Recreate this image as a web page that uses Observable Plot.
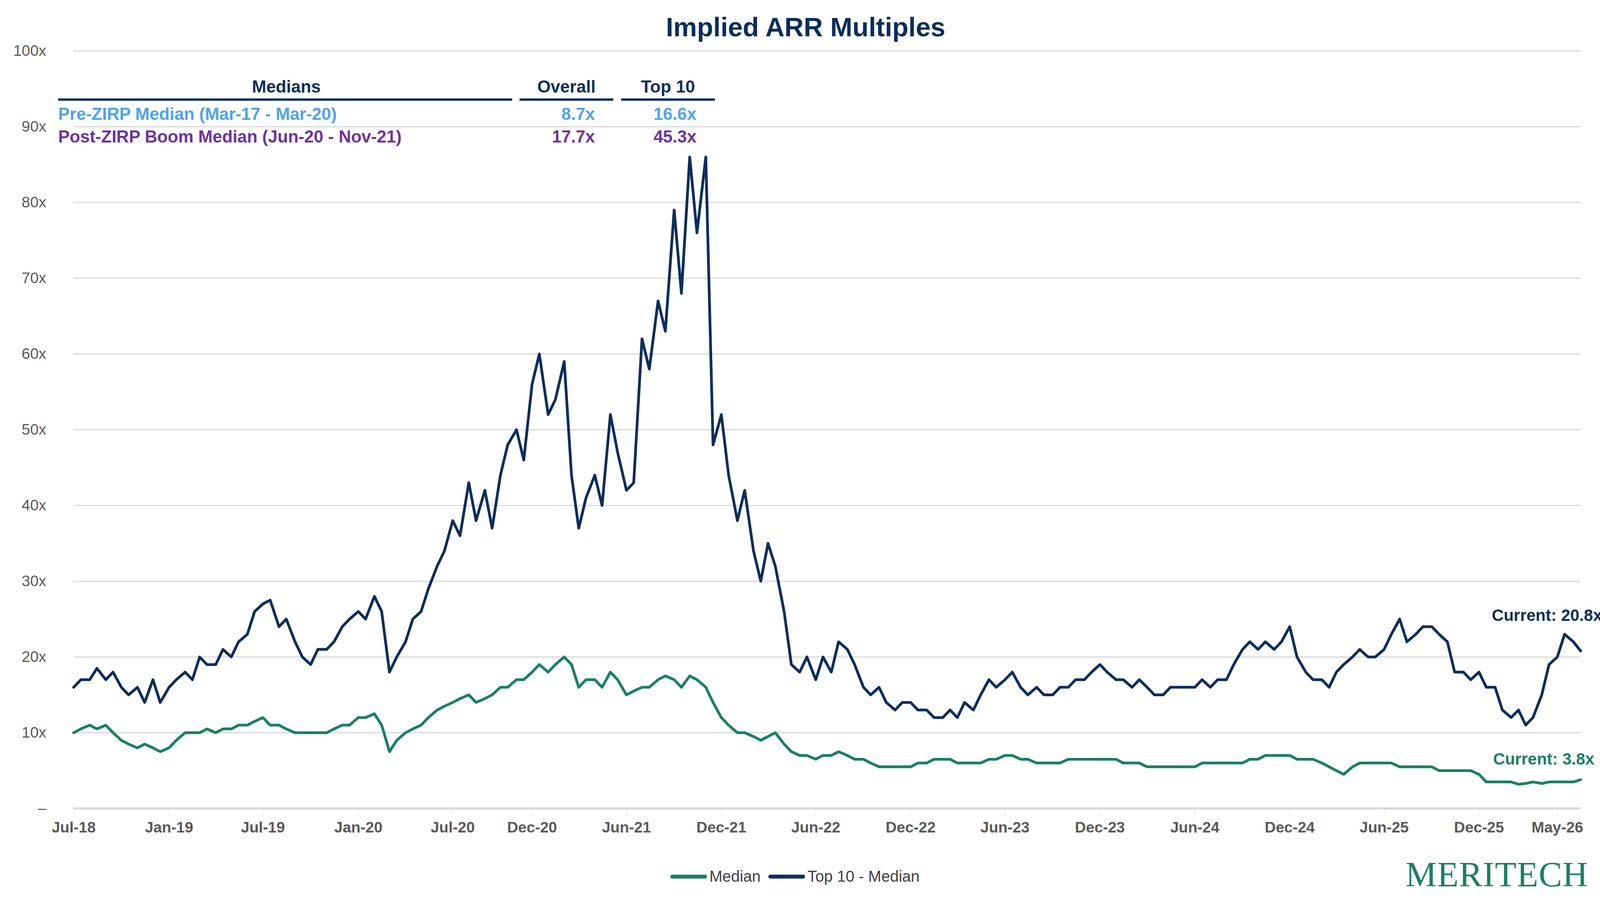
<!DOCTYPE html>
<html><head><meta charset="utf-8">
<script src="https://cdn.jsdelivr.net/npm/d3@7"></script>
<script src="https://cdn.jsdelivr.net/npm/@observablehq/plot@0.6"></script>
<style>
body{margin:0;width:4125px;height:2310px;background:#fff;position:relative;font-family:"Liberation Sans",Arial,sans-serif;overflow:hidden}
#title{position:absolute;top:30px;left:0;width:4125px;text-align:center;font-size:68px;font-weight:bold;color:#0B2D5B}
#chart{position:absolute;left:0;top:0}
.t{position:absolute;font-size:44px;font-weight:bold;white-space:nowrap;line-height:1}
.ul{position:absolute;height:6px;background:#0B2D5B;top:252px}
#legend{position:absolute;top:2222px;left:1716px;font-size:40px;color:#404040;display:flex;align-items:center}
.sw{display:inline-block;width:94px;height:10px;border-radius:5px;margin-right:6px}
#logo{position:absolute;left:3598px;top:2188px;font-family:"Liberation Serif","DejaVu Serif",serif;font-size:90px;color:#1A7F64;letter-spacing:1px}
svg g[aria-label="x-axis tick label"]{font-weight:bold}
</style></head><body>
<div id="title">Implied ARR Multiples</div>
<div id="chart"></div>
<div class="t" style="left:733px;top:200px;transform:translateX(-50%);color:#0B2D5B">Medians</div>
<div class="t" style="left:1450px;top:200px;transform:translateX(-50%);color:#0B2D5B">Overall</div>
<div class="t" style="left:1710px;top:200px;transform:translateX(-50%);color:#0B2D5B">Top 10</div>
<div class="ul" style="left:149px;width:1162px"></div>
<div class="ul" style="left:1330px;width:240px"></div>
<div class="ul" style="left:1590px;width:240px"></div>
<div class="t" style="left:149px;top:270px;color:#4DA3F0">Pre-ZIRP Median (Mar-17 - Mar-20)</div>
<div class="t" style="right:2602px;top:270px;color:#4DA3F0">8.7x</div>
<div class="t" style="right:2342px;top:270px;color:#4DA3F0">16.6x</div>
<div class="t" style="left:149px;top:328px;color:#7030A0">Post-ZIRP Boom Median (Jun-20 - Nov-21)</div>
<div class="t" style="right:2602px;top:328px;color:#7030A0">17.7x</div>
<div class="t" style="right:2342px;top:328px;color:#7030A0">45.3x</div>
<div id="legend"><span class="sw" style="background:#1A7F64"></span><span style="margin-right:20px">Median</span><span class="sw" style="background:#0B2D5B"></span><span>Top 10 - Median</span></div>
<div id="logo">MERITECH</div>
<script>
// semi-monthly readings (1st and 15th of each month) starting Jul 2018
const startDate = "2018-07-01";
const top10 = [
16,17, 17,18.5, 17,18, 16,15, 16,14, 17,14,
16,17, 18,17, 20,19, 19,21, 20,22, 23,26, 27,27.5, 24,25, 22,20, 19,21, 21,22, 24,25,
26,25, 28,26, 18,20, 22,25, 26,29, 32,34, 38,36, 43,38, 42,37, 44,48, 50,46, 56,60,
52,54, 59,44, 37,41, 44,40, 52,47, 42,43, 62,58, 67,63, 79,68, 86,76, 86,48, 52,44,
38,42, 34,30, 35,32, 26,19, 18,20, 17,20, 18,22, 21,19, 16,15, 16,14, 13,14, 14,13,
13,12, 12,13, 12,14, 13,15, 17,16, 17,18, 16,15, 16,15, 15,16, 16,17, 17,18, 19,18,
17,17, 16,17, 16,15, 15,16, 16,16, 16,17, 16,17, 17,19, 21,22, 21,22, 21,22, 24,20,
18,17, 17,16, 18,19, 20,21, 20,20, 21,23, 25,22, 23,24, 24,23, 22,18, 18,17, 18,16,
16,13, 12,13, 11,12, 15,19, 20,23, 22,20.8
];
const median = [
10,10.5, 11,10.5, 11,10, 9,8.5, 8,8.5, 8,7.5,
8,9, 10,10, 10,10.5, 10,10.5, 10.5,11, 11,11.5, 12,11, 11,10.5, 10,10, 10,10, 10,10.5, 11,11,
12,12, 12.5,11, 7.5,9, 10,10.5, 11,12, 13,13.5, 14,14.5, 15,14, 14.5,15, 16,16, 17,17, 18,19,
18,19, 20,19, 16,17, 17,16, 18,17, 15,15.5, 16,16, 17,17.5, 17,16, 17.5,17, 16,14, 12,11,
10,10, 9.5,9, 9.5,10, 8.5,7.5, 7,7, 6.5,7, 7,7.5, 7,6.5, 6.5,6, 5.5,5.5, 5.5,5.5, 5.5,6,
6,6.5, 6.5,6.5, 6,6, 6,6, 6.5,6.5, 7,7, 6.5,6.5, 6,6, 6,6, 6.5,6.5, 6.5,6.5, 6.5,6.5,
6.5,6, 6,6, 5.5,5.5, 5.5,5.5, 5.5,5.5, 5.5,6, 6,6, 6,6, 6,6.5, 6.5,7, 7,7, 7,6.5,
6.5,6.5, 6,5.5, 5,4.5, 5.5,6, 6,6, 6,6, 5.5,5.5, 5.5,5.5, 5.5,5, 5,5, 5,5, 4.5,3.5,
3.5,3.5, 3.5,3.2, 3.3,3.5, 3.3,3.5, 3.5,3.5, 3.5,3.8
];
const tickLabels = ["2018-07-01","2019-01-01","2019-07-01","2020-01-01","2020-07-01","2020-12-01","2021-06-01","2021-12-01","2022-06-01","2022-12-01","2023-06-01","2023-12-01","2024-06-01","2024-12-01","2025-06-01","2025-12-01","2026-05-01"];
const yTicks = [0,10,20,30,40,50,60,70,80,90,100];
const currentTop10 = 20.8, currentMedian = 3.8;

const n = Math.min(top10.length, median.length);
const s = new Date(startDate + "T00:00:00Z");
const rows = [];
for (let i = 0; i < n; i++) {
  const d = new Date(Date.UTC(s.getUTCFullYear(), s.getUTCMonth() + Math.floor(i/2), i % 2 ? 15 : 1));
  rows.push({date: d, median: median[i], top10: top10[i]});
}
const last = rows[rows.length-1];
const ticks = tickLabels.map(t => new Date(t + "T00:00:00Z"));

const chart = Plot.plot({
  width: 4125, height: 2180,
  marginTop: 130, marginBottom: 110, marginLeft: 188, marginRight: 79,
  style: {fontFamily: "Liberation Sans, Arial, sans-serif", fontSize: "39px", color: "#595959", background: "transparent", overflow: "visible"},
  x: {type: "utc", domain: [new Date("2018-07-01T00:00:00Z"), last.date]},
  y: {domain: [0, 100]},
  marks: [
    Plot.gridY(yTicks.filter(d => d > 0), {stroke: "#d9d9d9", strokeOpacity: 1, strokeWidth: 3}),
    Plot.ruleY([0], {stroke: "#d9d9d9", strokeWidth: 6}),
    Plot.axisY({ticks: yTicks, tickSize: 0, tickPadding: 70, tickFormat: d => d === 0 ? "–" : d + "x", fill: "#595959"}),
    Plot.axisX({ticks: ticks, tickSize: 22, tickPadding: 12, stroke: "#d9d9d9", tickFormat: d3.utcFormat("%b-%y"), fill: "#595959"}),
    Plot.line(rows, {x: "date", y: "top10", stroke: "#0B2D5B", strokeWidth: 7}),
    Plot.line(rows, {x: "date", y: "median", stroke: "#1A7F64", strokeWidth: 7}),
    Plot.text([last], {x: "date", y: () => currentTop10, text: () => `Current: ${currentTop10}x`, textAnchor: "end", dx: 55, dy: -90, fill: "#0B2D5B", fontWeight: "bold", fontSize: 42}),
    Plot.text([last], {x: "date", y: () => currentMedian, text: () => `Current: ${currentMedian}x`, textAnchor: "end", dx: 35, dy: -52, fill: "#1A7F64", fontWeight: "bold", fontSize: 42})
  ]
});
document.getElementById("chart").appendChild(chart);
</script>
</body></html>
